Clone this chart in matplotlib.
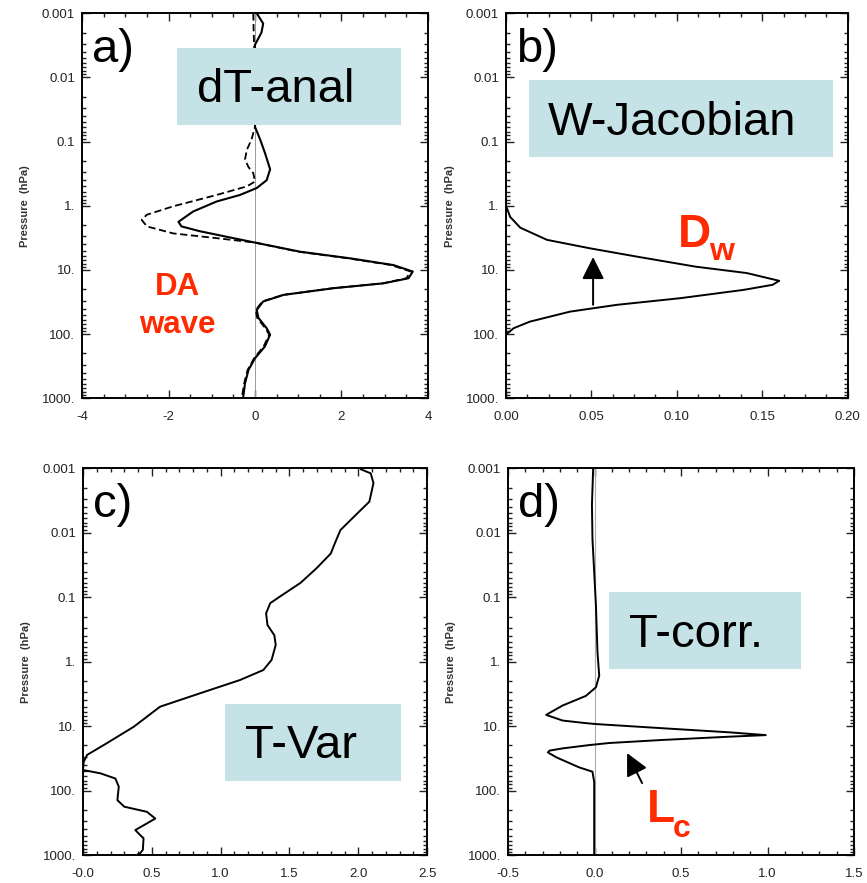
import matplotlib
matplotlib.use('Agg')
import matplotlib.pyplot as plt
from matplotlib.patches import Rectangle
from matplotlib.ticker import FixedLocator, MultipleLocator, LogLocator, NullFormatter

plt.rcParams['font.family'] = ['Liberation Sans', 'DejaVu Sans']

# a) analysis increment profiles (solid and dashed)
p_a = [0.001, 0.00145, 0.0020, 0.0031, 0.01, 0.03, 0.059, 0.093, 0.15, 0.27, 0.40, 0.53, 0.68, 0.86,
       1.23, 1.78, 2.1, 2.5, 3.2, 3.75, 5.2, 6.6, 8.4, 10.6, 13.5, 16.2, 19.3, 24.5, 31, 42, 56, 81,
       102, 156, 238, 362, 584, 940]
dt_a = [0.04, 0.19, 0.15, 0.0, 0.0, 0.02, 0.0, 0.12, 0.23, 0.35, 0.27, 0.04, -0.35, -0.89,
        -1.43, -1.77, -1.70, -1.27, -0.50, 0.0, 1.04, 2.2, 3.2, 3.65, 3.55, 2.97, 1.81, 0.66, 0.19, 0.04, 0.08, 0.27,
        0.35, 0.23, 0.0, -0.15, -0.23, -0.27]
p_a2 = [0.001, 0.002, 0.0031, 0.01, 0.03, 0.059, 0.093, 0.135, 0.19, 0.25, 0.31, 0.42, 0.50, 0.68,
        1.02, 1.38, 1.66, 2.1, 2.7, 3.2, 3.75, 5.2, 6.6, 8.4, 10.6, 13.5, 16.2, 19.3, 24.5, 31, 42, 56,
        81, 102, 156, 238, 362, 584, 940]
dt_a2 = [-0.04, -0.03, -0.02, 0.0, 0.0, 0.0, -0.08, -0.19, -0.23, -0.15, -0.04, 0.0, -0.19, -0.89,
         -1.89, -2.5, -2.62, -2.5, -1.89, -0.89, 0.0, 1.0, 2.15, 3.15, 3.6, 3.5, 2.95, 1.8, 0.66, 0.17, 0.02, 0.05,
         0.24, 0.33, 0.2, -0.02, -0.17, -0.25, -0.3]

# b) weighting function
p_b = [0.8, 1.0, 1.5, 2.2, 3.4, 4.6, 6.2, 8.9, 11.2, 14.8, 17.1, 20.5, 27.6, 35, 44.7, 64, 81, 102]
w_b = [0.0, 0.0, 0.0025, 0.0084, 0.024, 0.049, 0.0765, 0.111, 0.141, 0.160, 0.156, 0.139, 0.102,
       0.065, 0.0375, 0.014, 0.0045, 0.0]

# c) temperature background variance
p_c = [0.00104, 0.0012, 0.0017, 0.0033, 0.0056, 0.0091, 0.0145, 0.021, 0.035, 0.060, 0.098, 0.124,
       0.178, 0.27, 0.39, 0.55, 0.94, 1.35, 1.93, 3.1, 5.0, 10.2, 18.6, 28, 36, 48, 54, 65, 87, 141,
       178, 214, 272, 323, 410, 490, 550, 830, 940, 1000]
v_c = [2.02, 2.09, 2.11, 2.08, 1.97, 1.87, 1.83, 1.80, 1.70, 1.58, 1.43, 1.36,
       1.33, 1.34, 1.39, 1.40, 1.37, 1.31, 1.14, 0.85, 0.56, 0.37, 0.17, 0.03, 0.005, 0.0, 0.126, 0.235, 0.26, 0.25,
       0.30, 0.465, 0.525, 0.465, 0.38, 0.415, 0.44, 0.435, 0.415, 0.39]

# d) vertical temperature correlation
p_d = [0.001, 0.0037, 0.0126, 0.041, 0.134, 0.72, 1.65, 2.5, 3.4, 4.8, 6.7, 8.2, 9.0, 9.3, 10.8,
       12.5, 13.8, 14.6, 16.4, 18.3, 19.7, 22.2, 24, 25.6, 30.6, 43.6, 51, 74, 1000]
c_d = [-0.008, -0.015, -0.012, -0.002, 0.008, 0.017, 0.027, 0.008, -0.05, -0.185, -0.28, -0.185, -0.05, 0.008, 0.394,
       0.78, 0.99, 0.78, 0.394, 0.085, -0.03, -0.186, -0.26, -0.27, -0.22, -0.09, -0.012, -0.002, -0.002]

p_ticks = [0.001, 0.01, 0.1, 1, 10, 100, 1000]
p_labels = ['0.001', '0.01', '0.1', '1.', '10.', '100.', '1000.']

RED = '#ff2a00'
BOX = '#c5e3e6'

fig = plt.figure(figsize=(8.67, 8.83), dpi=100)


def setup(ax, xlim, xmajor, xminor, xlabels, panel):
    ax.set_yscale('log')
    ax.set_ylim(1000, 0.001)
    ax.set_xlim(*xlim)
    ax.yaxis.set_major_locator(FixedLocator(p_ticks))
    ax.set_yticklabels(p_labels)
    ax.yaxis.set_minor_locator(LogLocator(base=10, subs=range(2, 10), numticks=20))
    ax.yaxis.set_minor_formatter(NullFormatter())
    ax.xaxis.set_major_locator(FixedLocator(xmajor))
    ax.set_xticklabels(xlabels)
    ax.xaxis.set_minor_locator(MultipleLocator(xminor))
    ax.tick_params(which='both', direction='in', top=True, right=True, colors='#222222',
                   labelsize=9.5, width=1.0)
    ax.tick_params(which='major', length=6)
    ax.tick_params(which='minor', length=3)
    ax.tick_params(axis='x', pad=9)
    ax.tick_params(axis='y', pad=5)
    for s in ax.spines.values():
        s.set_linewidth(1.4)
    ax.set_ylabel('Pressure  (hPa)', fontsize=8, fontweight='bold', color='#333333')
    ax.yaxis.set_label_coords(-0.15, 0.5)
    ax.text(0.03, 0.873, panel, transform=ax.transAxes, fontsize=34, va='baseline')


def label_box(ax, x0, x1, y0, y1, tx, ty, text):
    ax.add_patch(Rectangle((x0, y0), x1 - x0, y1 - y0, transform=ax.transAxes,
                           facecolor=BOX, edgecolor='none', zorder=5))
    ax.text(tx, ty, text, transform=ax.transAxes, fontsize=34, va='baseline', zorder=6)


# a)
ax = fig.add_axes([0.0946, 0.549, 0.399, 0.436])
ax.axvline(0, color='#999999', lw=0.7)
ax.plot(dt_a2, p_a2, color='black', lw=1.3, ls=(0, (4, 2)))
ax.plot(dt_a, p_a, color='black', lw=1.5)
setup(ax, (-4, 4), [-4, -2, 0, 2, 4], 0.5, ['-4', '-2', '0', '2', '4'], 'a)')
label_box(ax, 0.275, 0.922, 0.709, 0.909, 0.332, 0.769, 'dT-anal')
ax.text(-1.8, 24.6, 'DA', color=RED, fontsize=22.5, fontweight='bold', ha='center', va='baseline')
ax.text(-1.8, 96, 'wave', color=RED, fontsize=22.5, fontweight='bold', ha='center', va='baseline')

# b)
ax = fig.add_axes([0.5836, 0.549, 0.394, 0.436])
ax.plot(w_b, p_b, color='black', lw=1.4)
setup(ax, (0, 0.2), [0, 0.05, 0.10, 0.15, 0.20], 0.0125,
      ['0.00', '0.05', '0.10', '0.15', '0.20'], 'b)')
label_box(ax, 0.067, 0.956, 0.626, 0.826, 0.123, 0.683, 'W-Jacobian')
ax.annotate('', xy=(0.051, 6.3), xytext=(0.051, 35),
            arrowprops=dict(arrowstyle='-|>', color='black', lw=1.4, mutation_scale=34,
                            shrinkA=0, shrinkB=0))
ax.text(0.1006, 4.4, 'D', color=RED, fontsize=33, fontweight='bold', va='baseline')
ax.text(0.119, 7.0, 'w', color=RED, fontsize=23, fontweight='bold', va='baseline')

# c)
ax = fig.add_axes([0.0957, 0.0317, 0.397, 0.438])
ax.plot(v_c, p_c, color='black', lw=1.4)
setup(ax, (0, 2.5), [0, 0.5, 1.0, 1.5, 2.0, 2.5], 0.1,
      ['-0.0', '0.5', '1.0', '1.5', '2.0', '2.5'], 'c)')
label_box(ax, 0.413, 0.924, 0.191, 0.390, 0.471, 0.251, 'T-Var')

# d)
ax = fig.add_axes([0.586, 0.0317, 0.399, 0.438])
ax.axvline(0, color='#aaaaaa', lw=0.8)
ax.plot(c_d, p_d, color='black', lw=1.4)
setup(ax, (-0.5, 1.5), [-0.5, 0, 0.5, 1.0, 1.5], 0.1,
      ['-0.5', '0.0', '0.5', '1.0', '1.5'], 'd)')
label_box(ax, 0.292, 0.847, 0.481, 0.680, 0.350, 0.537, 'T-corr.')
ax.annotate('', xy=(0.188, 26.2), xytext=(0.275, 76.6),
            arrowprops=dict(arrowstyle='-|>', color='black', lw=1.4, mutation_scale=34,
                            shrinkA=0, shrinkB=0))
ax.text(0.303, 308, 'L', color=RED, fontsize=33, fontweight='bold', va='baseline')
ax.text(0.454, 525, 'c', color=RED, fontsize=23, fontweight='bold', va='baseline')

fig.savefig('out.png', dpi=100)
